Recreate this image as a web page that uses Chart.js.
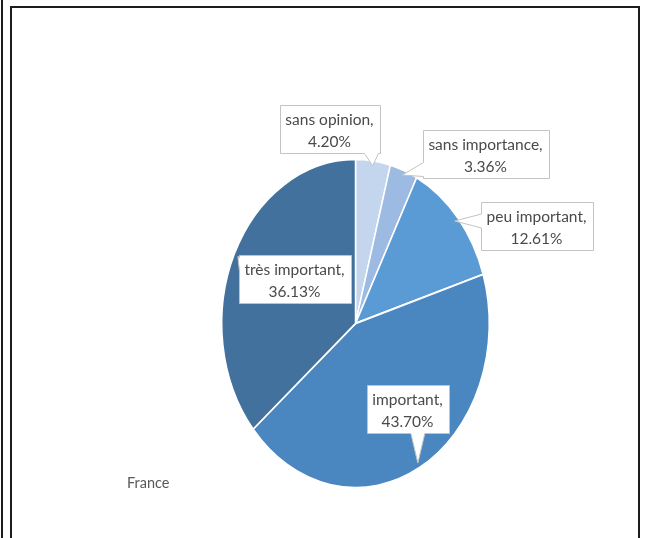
<!DOCTYPE html>
<html>
<head>
<meta charset="utf-8">
<script src="https://cdn.jsdelivr.net/npm/chart.js@4.4.1/dist/chart.umd.min.js"></script>
<style>
  html, body { margin:0; padding:0; background:#fff; overflow:hidden; }
  #wrap { position:relative; width:645px; height:538px; }
  #pie { position:absolute; left:0; top:0; }
  .ln { position:absolute; background:#1c1c1c; }
</style>
</head>
<body>
<div id="wrap">
  <canvas id="pie" width="645" height="538"></canvas>
  <div class="ln" style="left:1px;top:0;width:2px;height:538px"></div>
  <div class="ln" style="left:10px;top:6px;width:2px;height:532px"></div>
  <div class="ln" style="left:10px;top:6px;width:630px;height:2px"></div>
  <div class="ln" style="left:638px;top:6px;width:2px;height:532px"></div>
</div>
<script>
// clockwise from 12 o'clock
const LABELS = ['sans opinion', 'sans importance', 'peu important', 'important', 'très important'];
const VALUES = [4.20, 3.36, 12.61, 43.70, 36.13];
const COLORS = ['#c4d6ee', '#9dbbe2', '#5b9bd5', '#4a86c0', '#42719d'];
const CHART_LABEL = 'France';

// label boxes: centre offset from pie centre (px) and height
const BOX_POS = [[-26, -195], [130, -170], [181, -98], [52, 85], [-61, -45]];
const BOX_H = 48;
const STRETCH_Y = 1.227;   // the pie is drawn as a tall ellipse
const FONT = '15.5px Lato, "Open Sans", sans-serif';

function clamp(v, lo, hi) { return Math.max(lo, Math.min(hi, v)); }

function callout(ctx, l, t, w, h, tx, ty) {
  const r = l + w, b = t + h, half = 7;
  let side = 'right';
  if (ty > b) side = 'bottom';
  else if (ty < t) side = 'top';
  else if (tx < l) side = 'left';
  ctx.beginPath();
  ctx.moveTo(l, t);
  if (side === 'top') { const c = clamp(tx, l+half+2, r-half-2); ctx.lineTo(c-half, t); ctx.lineTo(tx, ty); ctx.lineTo(c+half, t); }
  ctx.lineTo(r, t);
  if (side === 'right') { const c = clamp(ty, t+half+2, b-half-2); ctx.lineTo(r, c-half); ctx.lineTo(tx, ty); ctx.lineTo(r, c+half); }
  ctx.lineTo(r, b);
  if (side === 'bottom') { const c = clamp(tx, l+half+2, r-half-2); ctx.lineTo(c+half, b); ctx.lineTo(tx, ty); ctx.lineTo(c-half, b); }
  ctx.lineTo(l, b);
  if (side === 'left') { const c = clamp(ty, t+half+2, b-half-2); ctx.lineTo(l, c+half); ctx.lineTo(tx, ty); ctx.lineTo(l, c-half); }
  ctx.closePath();
  ctx.fillStyle = '#fff';
  ctx.fill();
  ctx.strokeStyle = '#c3c3c3';
  ctx.lineWidth = 1;
  ctx.stroke();
}

const ellipsePie = {
  id: 'ellipsePie',
  beforeDatasetsDraw(chart) {
    const a = chart.getDatasetMeta(0).data[0];
    const ctx = chart.ctx;
    ctx.save();
    ctx.translate(a.x, a.y);
    ctx.scale(1, STRETCH_Y);
    ctx.translate(-a.x, -a.y);
  },
  afterDatasetsDraw(chart) { chart.ctx.restore(); },
  afterDraw(chart) {
    const ctx = chart.ctx;
    const arcs = chart.getDatasetMeta(0).data;
    ctx.save();
    ctx.font = FONT;
    arcs.forEach((a, i) => {
      const mid = (a.startAngle + a.endAngle) / 2;
      const k = 0.97;
      const tx = a.x + Math.cos(mid) * a.outerRadius * k;
      const ty = a.y + Math.sin(mid) * a.outerRadius * k * STRETCH_Y;
      const l1 = LABELS[i] + ',';
      const l2 = VALUES[i].toFixed(2) + '%';
      const w = Math.round(Math.max(ctx.measureText(l1).width, ctx.measureText(l2).width) + 12);
      const cx = a.x + BOX_POS[i][0], cy = a.y + BOX_POS[i][1];
      const left = Math.round(cx - w/2) + 0.5, top = Math.round(cy - BOX_H/2) + 0.5;
      callout(ctx, left, top, w, BOX_H, tx, ty);
      ctx.fillStyle = '#4a4a4a';
      ctx.textAlign = 'center';
      ctx.textBaseline = 'alphabetic';
      ctx.fillText(l1, cx, cy - 4);
      ctx.fillText(l2, cx, cy + 18);
    });
    ctx.fillStyle = '#595959';
    ctx.textAlign = 'left';
    ctx.font = '14.5px Lato, "Open Sans", sans-serif';
    ctx.fillText(CHART_LABEL, 127, 488);
    ctx.restore();
  }
};

new Chart(document.getElementById('pie'), {
  type: 'pie',
  data: {
    labels: LABELS,
    datasets: [{
      data: VALUES,
      backgroundColor: COLORS,
      borderColor: '#ffffff',
      borderWidth: 1.5,
    }],
  },
  options: {
    responsive: false,
    animation: false,
    devicePixelRatio: 1,
    layout: { padding: { left: 221, right: 155, top: 189, bottom: 80 } },
    plugins: {
      legend: { display: false },
      tooltip: { enabled: false },
    },
  },
  plugins: [ellipsePie],
});
</script>
</body>
</html>
